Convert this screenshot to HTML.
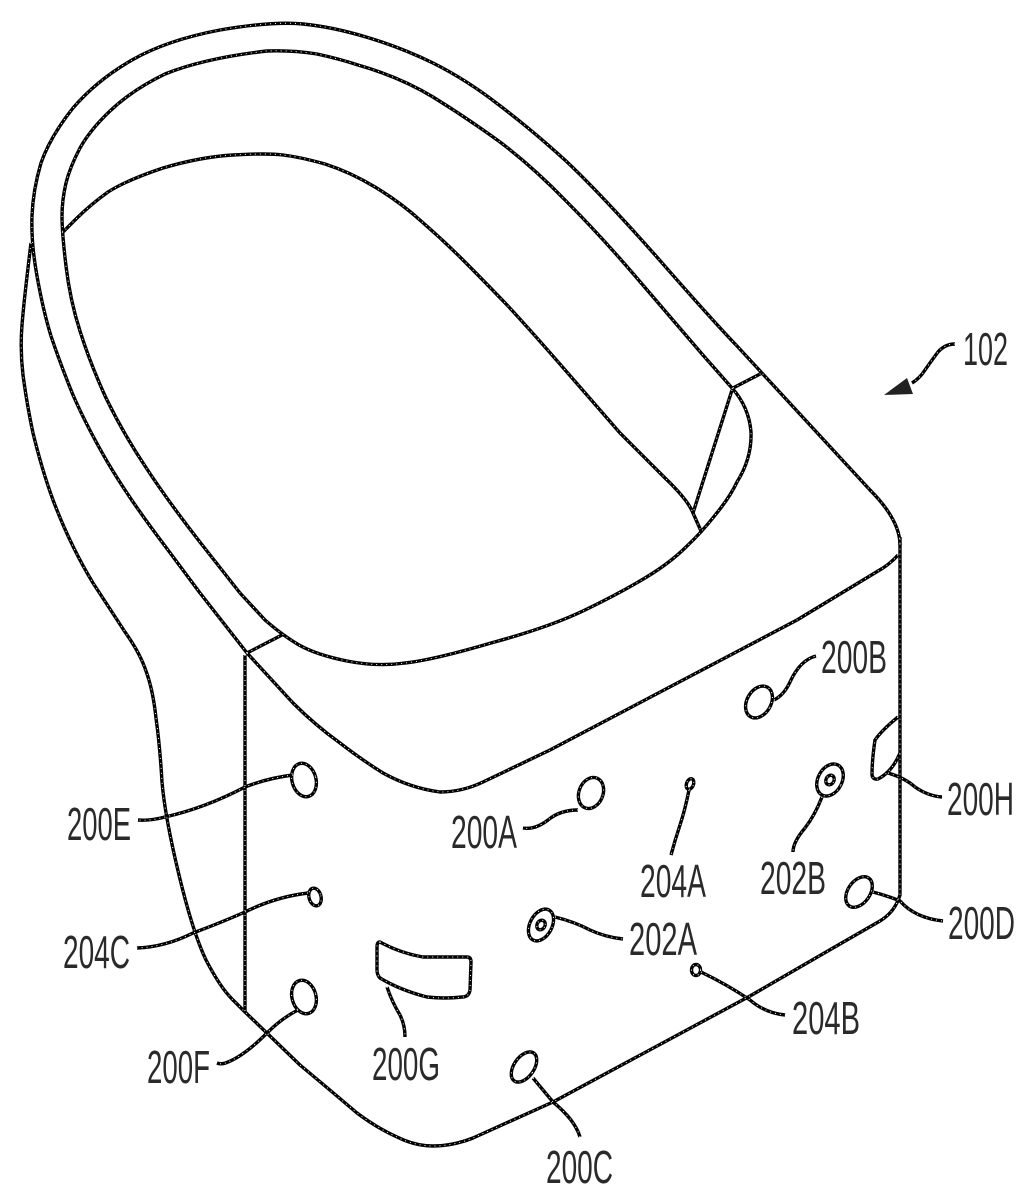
<!DOCTYPE html>
<html>
<head>
<meta charset="utf-8">
<style>
html,body{margin:0;padding:0;background:#fff;}
svg{display:block;}
text{font-family:"Liberation Sans",sans-serif;font-size:46px;fill:#2a2a2a;}
</style>
</head>
<body>
<svg width="1035" height="1200" viewBox="0 0 1035 1200" xmlns="http://www.w3.org/2000/svg">
<defs>
<g id="art" fill="none" stroke-linejoin="round">
  <!-- outer rim -->
  <path d="M247 653L200 593L165 546Q130 500 108 463Q87 427 73 395Q60 363 51 336Q43 310 37 276Q31 243 32 216Q33 190 41 163Q50 137 73 108Q97 80 132 60Q167 40 220 30Q273 21 303 24Q333 27 366 37Q400 47 433 63Q467 80 499 105Q532 130 566 161Q600 193 656 256Q712 320 737 346L870 490Q900 520 900 545"/>
  <!-- middle rim -->
  <path d="M732 388Q749 407 751 432Q752 458 737 482Q730 497 716 514Q702 532 686 547Q670 563 645 578Q620 593 585 610Q550 627 491 643Q433 660 405 663Q377 667 347 661Q317 655 299 645Q282 635 265 620L240 593L203 546Q167 500 145 466Q123 433 106 398Q90 363 80 331Q70 300 66 266Q62 233 62 216Q62 200 66 183Q70 167 80 148Q90 130 110 111Q132 90 165 74Q205 58 267 51Q292 50 317 54Q340 59 358 65Q400 77 433 97Q467 118 500 142Q533 167 566 201Q600 235 636 277Q673 320 702 354L732 388"/>
  <!-- inner opening -->
  <path d="M62 233L76 219Q90 205 108 192Q127 180 163 168Q200 157 233 155Q267 153 283 155Q300 157 325 164Q350 172 375 187Q400 202 421 221Q443 240 463 260Q483 280 508 306Q533 333 566 371Q600 410 620 433L665 478Q688 500 693 513L701 531"/>
  <!-- outer wall and base -->
  <path d="M31 243Q24 300 22 325Q20 350 23 375Q27 405 33 433Q42 470 53 500Q70 545 93 583L125 632Q140 653 146 671Q153 690 156 718Q160 747 162 782Q165 817 179 875Q193 933 206 960Q220 987 232 999L245 1012L300 1065Q330 1090 357 1113Q377 1128 397 1137Q415 1146 433 1146Q453 1146 473 1138L553 1102L750 996L833 948L880 921Q895 912 900 895L900 537"/>
  <!-- front top edge -->
  <path d="M247 653L293 703Q315 725 340 743Q362 760 383 773Q410 788 440 792Q462 792 483 782L550 750L797 620L883 568Q892 562 898 555"/>
  <!-- seams -->
  <path d="M245 655L245 1012"/>
  <path d="M247 653L282 635"/>
  <path d="M733 388L762 373"/>
  <path d="M732 390L693 513"/>
  <!-- sensors -->
  <ellipse cx="759" cy="702" rx="12" ry="17" transform="rotate(30 759 702)"/>
  <ellipse cx="591" cy="793" rx="12" ry="16" transform="rotate(22 591 793)"/>
  <ellipse cx="690" cy="784" rx="3.5" ry="5.5" transform="rotate(20 690 784)"/>
  <ellipse cx="830" cy="780" rx="12" ry="17" transform="rotate(28 830 780)"/>
  <ellipse cx="830" cy="780" rx="4" ry="5" transform="rotate(28 830 780)"/>
  <ellipse cx="859" cy="892" rx="11" ry="17" transform="rotate(35 859 892)"/>
  <ellipse cx="541" cy="925" rx="11" ry="17" transform="rotate(28 541 925)"/>
  <ellipse cx="541" cy="925" rx="4" ry="5" transform="rotate(28 541 925)"/>
  <ellipse cx="696" cy="970" rx="4.5" ry="5.5"/>
  <ellipse cx="304" cy="780" rx="12" ry="17" transform="rotate(-15 304 780)"/>
  <ellipse cx="315" cy="897" rx="6" ry="9" transform="rotate(-15 315 897)"/>
  <ellipse cx="304" cy="997" rx="12" ry="17" transform="rotate(-15 304 997)"/>
  <ellipse cx="524" cy="1067" rx="10" ry="17" transform="rotate(35 524 1067)"/>
  <path d="M898 717Q882 730 875 740Q872 760 872 775Q873 780 878 779Q892 772 900 753"/>
  <path d="M380 942Q400 953 423 957L467 957Q471 957 471 962L470 990Q469 997 462 997Q445 999 427 997Q400 990 380 978Q377 975 377 970L377 947Q377 942 380 942Z"/>
  <!-- leaders -->
  <path d="M774 700Q784 695 790 682Q800 660 816 656"/>
  <path d="M578 810Q560 810 548 820Q535 830 523 828"/>
  <path d="M689 790Q685 810 680 825Q675 840 671 855"/>
  <path d="M822 797Q815 815 805 828Q793 842 793 852"/>
  <path d="M888 773Q905 778 915 787Q928 796 942 797"/>
  <path d="M873 892Q888 896 900 901Q915 918 943 921"/>
  <path d="M555 917Q575 922 590 930Q605 937 623 939"/>
  <path d="M701 972Q728 985 750 1000Q765 1013 785 1015"/>
  <path d="M293 775Q268 778 245 787Q205 808 165 817Q150 821 138 820"/>
  <path d="M308 893Q275 897 245 912Q220 923 193 933Q165 947 137 948"/>
  <path d="M298 1010Q282 1018 267 1033Q245 1055 228 1062Q222 1065 217 1063"/>
  <path d="M387 987Q392 1002 400 1015Q405 1025 405 1037"/>
  <path d="M533 1078L553 1102Q575 1120 580 1137"/>
  <!-- 102 leader -->
  <path d="M955 344Q945 344 938 352Q932 360 925 370Q920 378 912 383"/>
</g>
</defs>
<use href="#art" stroke="#000" stroke-width="3.4"/>
<use href="#art" stroke="#fff" stroke-width="1" stroke-dasharray="1 4"/>
<polygon points="884,395 907,378 913,394" fill="#222"/>
<text x="963" y="365" textLength="45" lengthAdjust="spacingAndGlyphs">102</text>
<text x="821" y="673" textLength="66" lengthAdjust="spacingAndGlyphs">200B</text>
<text x="451" y="848" textLength="66" lengthAdjust="spacingAndGlyphs">200A</text>
<text x="640" y="897" textLength="66" lengthAdjust="spacingAndGlyphs">204A</text>
<text x="760" y="894" textLength="66" lengthAdjust="spacingAndGlyphs">202B</text>
<text x="947" y="815" textLength="67" lengthAdjust="spacingAndGlyphs">200H</text>
<text x="948" y="939" textLength="67" lengthAdjust="spacingAndGlyphs">200D</text>
<text x="629" y="955" textLength="68" lengthAdjust="spacingAndGlyphs">202A</text>
<text x="792" y="1034" textLength="68" lengthAdjust="spacingAndGlyphs">204B</text>
<text x="67" y="840" textLength="64" lengthAdjust="spacingAndGlyphs">200E</text>
<text x="63" y="968" textLength="67" lengthAdjust="spacingAndGlyphs">204C</text>
<text x="147" y="1083" textLength="63" lengthAdjust="spacingAndGlyphs">200F</text>
<text x="372" y="1080" textLength="68" lengthAdjust="spacingAndGlyphs">200G</text>
<text x="546" y="1183" textLength="67" lengthAdjust="spacingAndGlyphs">200C</text>
</svg>
</body>
</html>
